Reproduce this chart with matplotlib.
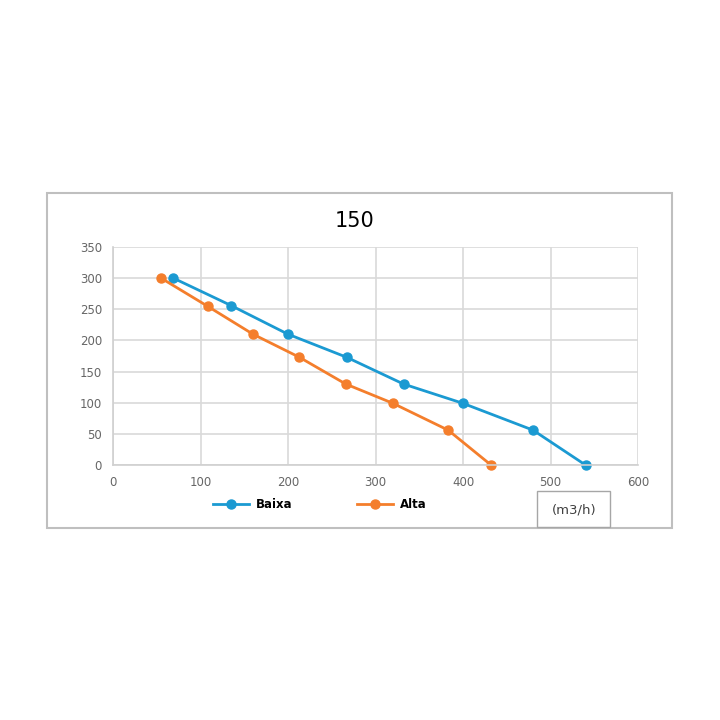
import matplotlib
matplotlib.use('Agg')
import matplotlib.pyplot as plt
from matplotlib.patches import Rectangle
from matplotlib.lines import Line2D

# dane
baixa_x = [69, 135, 200, 267, 332, 400, 480, 540]
baixa_y = [300, 256, 210, 173, 130, 99, 56, 0]
alta_x = [55, 108, 160, 213, 266, 320, 383, 432]
alta_y = [300, 255, 210, 173, 130, 99, 56, 0]
x_ticks = [0, 100, 200, 300, 400, 500, 600]
y_ticks = [0, 50, 100, 150, 200, 250, 300, 350]

kolor_baixa = '#1b9ad2'
kolor_alta = '#f47e2c'

fig = plt.figure(figsize=(7.2, 7.2), dpi=100)

# ramka wokol calego wykresu
fig.patches.append(Rectangle((47 / 720, 1 - 528 / 720), 625 / 720, 335 / 720,
                             transform=fig.transFigure, fill=False,
                             edgecolor='#bfbfbf', linewidth=1.5))

ax = fig.add_axes([113 / 720, 1 - 465 / 720, 525 / 720, 218 / 720])
ax.plot(baixa_x, baixa_y, color=kolor_baixa, marker='o', markersize=6.5, linewidth=2, clip_on=False)
ax.plot(alta_x, alta_y, color=kolor_alta, marker='o', markersize=6.5, linewidth=2, clip_on=False)

ax.set_xlim(0, 600)
ax.set_ylim(0, 350)
ax.set_xticks(x_ticks)
ax.set_yticks(y_ticks)
ax.tick_params(length=0, labelsize=8.5, colors='#666666', pad=8)
ax.grid(True, color='#d9d9d9', linewidth=1.2)
ax.set_axisbelow(True)
for s in ['top', 'right']:
    ax.spines[s].set_visible(False)
for s in ['left', 'bottom']:
    ax.spines[s].set_color('#d0d0d0')
    ax.spines[s].set_linewidth(1.2)

fig.text(355 / 720, 1 - 221 / 720, '150', ha='center', va='center', fontsize=15)

# legenda pod wykresem
uchwyty = [Line2D([], [], color=kolor_baixa, marker='o', markersize=6.5, linewidth=2),
           Line2D([], [], color=kolor_alta, marker='o', markersize=6.5, linewidth=2)]
fig.legend(uchwyty, ['Baixa', 'Alta'], loc='center', bbox_to_anchor=(320 / 720, 1 - 505 / 720),
           ncol=2, frameon=False, columnspacing=5.5, handlelength=3.0, handletextpad=0.6,
           prop={'weight': 'bold', 'size': 8.5})

# jednostka w ramce
fig.patches.append(Rectangle((537 / 720, 1 - 527 / 720), 73 / 720, 36 / 720,
                             transform=fig.transFigure, fill=False,
                             edgecolor='#a6a6a6', linewidth=1))
fig.text(574 / 720, 1 - 510 / 720, '(m3/h)', ha='center', va='center', fontsize=9.5, color='#404040')

plt.savefig('out.png', dpi=100)
